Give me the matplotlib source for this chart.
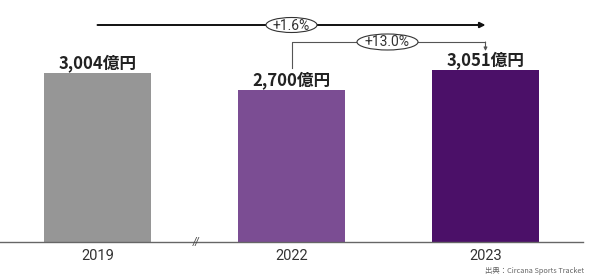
import matplotlib.pyplot as plt
from matplotlib.patches import Ellipse

plt.rcParams['font.family'] = ['Noto Sans CJK JP', 'DejaVu Sans']

# Data
years = ["2019", "2022", "2023"]
sales = [3004, 2700, 3051]
labels = ["3,004億円", "2,700億円", "3,051億円"]
colors = ["#969696", "#7b4d93", "#4b1068"]
growth_total = "+1.6%"
growth_yoy = "+13.0%"
source = "出典：Circana Sports Tracket"

fig = plt.figure(figsize=(6, 2.79), dpi=100)
# axes spans pixel x 0..583, pixel y 0..242 (baseline)
ax = fig.add_axes([0, 37 / 279, 583 / 600, 242 / 279])
x = list(range(len(years)))
ax.bar(x, sales, width=0.55, color=colors)
ax.set_xlim(-0.5026, 2.5026)
ax.set_ylim(0, 4300)

for s in ["top", "right", "left"]:
    ax.spines[s].set_visible(False)
ax.spines["bottom"].set_color("#666666")
ax.spines["bottom"].set_linewidth(1.0)
ax.set_yticks([])
ax.set_xticks(x)
ax.set_xticklabels(years, fontsize=10.5, color="#333333", family="Roboto")
ax.tick_params(axis="x", length=0, pad=5)

# value labels
for xi, v, lab in zip(x, sales, labels):
    ax.text(xi, v + 20, lab, ha="center", va="bottom", fontsize=12,
            fontweight="bold", color="#222222")

# axis break mark
ax.text(0.505, 0, "//", ha="center", va="center", fontsize=7, color="#444444",
        style="italic", family="DejaVu Sans")

# px -> data for y
def py(p):
    return (242 - p) / 242 * 4300

# long arrow 2019 -> 2023
ax.annotate("", xy=(2, py(25)), xytext=(0, py(25)),
            arrowprops=dict(arrowstyle="-|>", color="#111111", lw=1.4,
                            mutation_scale=8, shrinkA=0, shrinkB=0))
ax.add_patch(Ellipse((1, py(25)), 51 / 194, 15 / 242 * 4300,
                     facecolor="white", edgecolor="#333333", lw=0.8, zorder=3))
ax.text(1, py(25.5), growth_total, ha="center", va="center", fontsize=10,
        color="#333333", zorder=4, family="Roboto")

# bracket 2022 -> 2023
ax.plot([1, 1, 2], [py(68), py(42), py(42)], color="#555555", lw=0.8)
ax.annotate("", xy=(2, py(51)), xytext=(2, py(42)),
            arrowprops=dict(arrowstyle="-|>", color="#555555", lw=0.8,
                            mutation_scale=5, shrinkA=0, shrinkB=0))
ax.add_patch(Ellipse((1 + 96 / 194, py(42)), 61 / 194, 16 / 242 * 4300,
                     facecolor="white", edgecolor="#333333", lw=0.8, zorder=3))
ax.text(1 + 96 / 194, py(42.5), growth_yoy, ha="center", va="center",
        fontsize=10, color="#333333", zorder=4, family="Roboto")

fig.text(584 / 600, 1 - 271 / 279, source, ha="right", va="center",
         fontsize=5.3, color="#666666")

fig.savefig("out.png", dpi=100)
